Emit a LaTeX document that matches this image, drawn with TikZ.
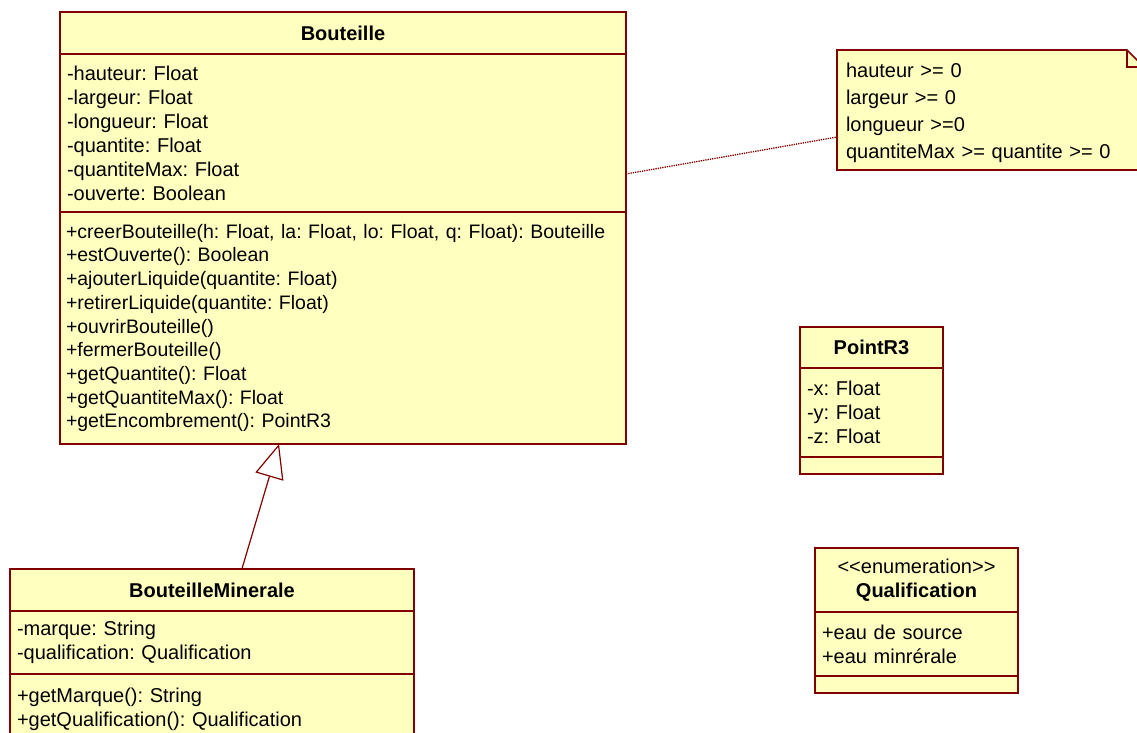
\documentclass[tikz,border=0pt]{standalone}
\usepackage{fontspec}
\setmainfont{Liberation Sans}
\usetikzlibrary{positioning,calc,arrows.meta}
\definecolor{umlred}{RGB}{128,0,0}
\definecolor{umlyellow}{RGB}{255,255,192}
\frenchspacing

\begin{document}
\begin{tikzpicture} [x=1pt, y=-1pt,
				classname/.style={
				% The shape:
				rectangle,
				% The size:
				minimum height=#1,
				% The border:
				draw=umlred, line width=1.6pt,
				% The filling:
				fill=umlyellow,
				% Font
				font=\fontsize{20}{24}\selectfont\bfseries,
				align=center
				},
				members/.style={
				% The shape:
				rectangle,
				% The size:
				minimum height=#1,
				% The border:
				draw=umlred, line width=1.6pt,
				% The filling:
				fill=umlyellow,
				% Font
				font=\fontsize{20}{24}\selectfont,
				align=left
				},
				notetext/.style={
				% The size:
				minimum height=120pt, text width=289pt,
				inner xsep=9pt,
				% Font
				font=\fontsize{20}{27}\selectfont,
				align=left
				},
				generalization/.style={draw=umlred, line width=1.2pt,
				-{Triangle[open, length=34pt, width=29pt, fill=white]}},
				noteline/.style={draw=umlred, line width=1.3pt, densely dotted},
				]
    \tikzstyle{every node} = [inner xsep=7pt, inner ysep=0pt, outer sep=0pt]
    \useasboundingbox (0,0) rectangle (1137,733);
    \clip (0,0) rectangle (1137,733);

    % Bouteille
    \node [classname=42pt, text width=552pt, anchor=north west] (bouteille) at (60,12) {Bouteille};
    \node [members=158pt, text width=552pt, below=0pt of bouteille] (bouteilleattr) {-hauteur: Float\\
        -largeur: Float\\
        -longueur: Float\\
        -quantite: Float\\
        -quantiteMax: Float\\
        -ouverte: Boolean};
    \node [members=232pt, text width=554pt, inner xsep=6pt, font=\fontsize{19.5}{23.7}\selectfont,
        below=0pt of bouteilleattr] (bouteilleops) {\mbox{+creerBouteille(h: Float, la: Float, lo: Float, q: Float): Bouteille}\\
        +estOuverte(): Boolean\\
        +ajouterLiquide(quantite: Float)\\
        +retirerLiquide(quantite: Float)\\
        +ouvrirBouteille()\\
        +fermerBouteille()\\
        +getQuantite(): Float\\
        +getQuantiteMax(): Float\\
        +getEncombrement(): PointR3};

    % BouteilleMinerale
    \node [classname=42pt, text width=390pt, anchor=north west] (minerale) at (10,569) {BouteilleMinerale};
    \node [members=63pt, text width=390pt, below=0pt of minerale] (mineraleattr) {-marque: String\\
        -qualification: Qualification};
    \node [members=71pt, text width=390pt, below=0pt of mineraleattr] (mineraleops) {+getMarque(): String\\
        +getQualification(): Qualification};

    % PointR3
    \node [classname=41pt, text width=129pt, anchor=north west] (point) at (800,327) {PointR3};
    \node [members=89pt, text width=129pt, below=0pt of point] (pointattr) {-x: Float\\
        -y: Float\\
        -z: Float};
    \node [members=17pt, text width=129pt, below=0pt of pointattr] (pointops) {};

    % Qualification
    \node [classname=64pt, text width=189pt, anchor=north west] (qualif) at (815,548) {{\mdseries <{}<enumeration>{}>}\\Qualification};
    \node [members=64pt, text width=189pt, below=0pt of qualif] (qualiflit) {+eau de source\\
        +eau minr\'erale};
    \node [members=17pt, text width=189pt, below=0pt of qualiflit] (qualifops) {};

    % note
    \node [notetext, anchor=north west] (note) at (837,50) {};
    \filldraw [draw=umlred, fill=umlyellow, line width=1.6pt] (note.north west) -- ($(note.north east)+(-17,0)$)
        -- ($(note.north east)+(0,17)$) -- (note.south east) -- (note.south west) -- cycle;
    \draw [umlred, line width=1.6pt] ($(note.north east)+(-17,0)$) |- ($(note.north east)+(0,17)$);
    \node [notetext, anchor=north west] at ($(note.north west)+(0,3)$) {hauteur >= 0\\
        largeur >= 0\\
        longueur >=0\\
        quantiteMax >= quantite >= 0};

    % links
    \draw [generalization] ($(minerale.north west)!0.574!(minerale.north east)$) -- ($(bouteilleops.south west)!0.387!(bouteilleops.south east)$);
    \draw [noteline] ($(bouteilleattr.north east)+(0,120)$) -- ($(note.north west)+(0,87)$);
\end{tikzpicture}
\end{document}
